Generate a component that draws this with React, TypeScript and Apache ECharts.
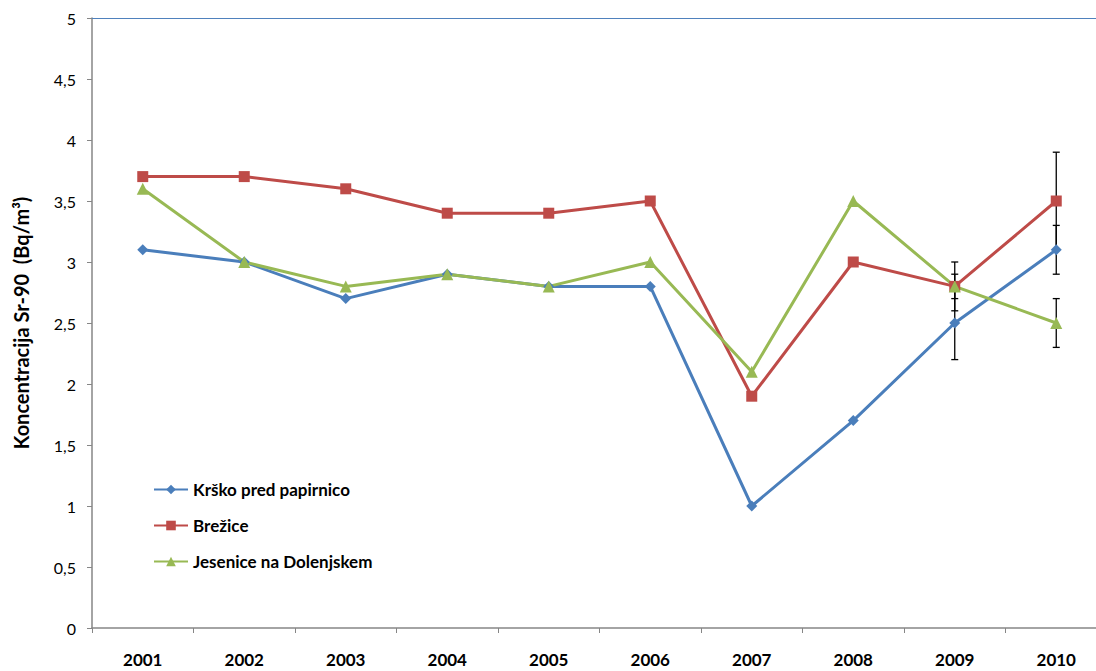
import React, { useEffect, useRef } from "react";
import * as echarts from "echarts";

const years = ["2001", "2002", "2003", "2004", "2005", "2006", "2007", "2008", "2009", "2010"];
const krsko = [3.1, 3.0, 2.7, 2.9, 2.8, 2.8, 1.0, 1.7, 2.5, 3.1];
const brezice = [3.7, 3.7, 3.6, 3.4, 3.4, 3.5, 1.9, 3.0, 2.8, 3.5];
const jesenice = [3.6, 3.0, 2.8, 2.9, 2.8, 3.0, 2.1, 3.5, 2.8, 2.5];
// error (± value) per year, null = none
const krskoErr = [null, null, null, null, null, null, null, null, 0.3, 0.2];
const breziceErr = [null, null, null, null, null, null, null, null, 0.2, 0.4];
const jeseniceErr = [null, null, null, null, null, null, null, null, 0.1, 0.2];
const yTicks = ["0", "0,5", "1", "1,5", "2", "2,5", "3", "3,5", "4", "4,5", "5"];

const FONT = "Lato, 'Liberation Sans', sans-serif";

function errData(values: number[], errs: (number | null)[]) {
  const out: number[][] = [];
  values.forEach((v, i) => {
    const e = errs[i];
    if (e != null) out.push([i, +(v - e).toFixed(2), +(v + e).toFixed(2)]);
  });
  return out;
}

function errSeries(values: number[], errs: (number | null)[]) {
  return {
    type: "custom",
    silent: true,
    z: 1,
    data: errData(values, errs),
    encode: { x: 0, y: [1, 2] },
    renderItem: (params: any, api: any) => {
      const x = api.value(0);
      const lo = api.coord([x, api.value(1)]);
      const hi = api.coord([x, api.value(2)]);
      const cap = 3.5;
      const style = { stroke: "#000", lineWidth: 1.3 };
      return {
        type: "group",
        children: [
          { type: "line", shape: { x1: lo[0], y1: lo[1], x2: hi[0], y2: hi[1] }, style },
          { type: "line", shape: { x1: lo[0] - cap, y1: lo[1], x2: lo[0] + cap, y2: lo[1] }, style },
          { type: "line", shape: { x1: hi[0] - cap, y1: hi[1], x2: hi[0] + cap, y2: hi[1] }, style },
        ],
      };
    },
  };
}

export default function App() {
  const ref = useRef<HTMLDivElement>(null);
  useEffect(() => {
    document.body.style.margin = "0";
    const chart = echarts.init(ref.current!, undefined, { renderer: "svg" });
    const lineSeries = (name: string, data: number[], color: string, symbol: string, size: number) => ({
      name,
      type: "line",
      data,
      z: 3,
      symbol,
      symbolSize: size,
      lineStyle: { color, width: 3 },
      itemStyle: { color },
    });
    chart.setOption({
      animation: false,
      backgroundColor: "#fff",
      grid: { left: 92, right: -11, top: 18, bottom: 43, outerBoundsMode: "none", containLabel: false },
      legend: {
        orient: "vertical",
        left: 148,
        top: 476,
        itemWidth: 34,
        itemHeight: 12,
        itemGap: 19,
        textStyle: { fontFamily: FONT, fontWeight: "bold", fontSize: 17, color: "#000" },
        data: ["Krško pred papirnico", "Brežice", "Jesenice na Dolenjskem"],
      },
      xAxis: [
        {
          type: "category",
          data: years,
          boundaryGap: true,
          axisLine: { lineStyle: { color: "#868686", width: 1.5 } },
          axisTick: { show: true, length: 5, lineStyle: { color: "#868686" } },
          axisLabel: { fontFamily: FONT, fontWeight: "bold", fontSize: 17, color: "#000", margin: 23 },
        },
        {
          type: "category",
          data: years,
          position: "top",
          axisLine: { lineStyle: { color: "#4F81BD", width: 1 } },
          axisTick: { show: false },
          axisLabel: { show: false },
        },
      ],
      yAxis: {
        type: "value",
        min: 0,
        max: 5,
        interval: 0.5,
        name: "Koncentracija Sr-90  (Bq/m³)",
        nameLocation: "middle",
        nameGap: 61,
        nameTextStyle: { fontFamily: FONT, fontWeight: "bold", fontSize: 20, color: "#000" },
        axisLine: { show: true, lineStyle: { color: "#868686", width: 1.5 } },
        axisTick: { show: true, length: 5, lineStyle: { color: "#868686" } },
        splitLine: { show: false },
        axisLabel: {
          fontFamily: FONT,
          fontSize: 16,
          color: "#000",
          margin: 16,
          formatter: (v: number) => yTicks[Math.round(v * 2)] ?? String(v),
        },
      },
      series: [
        errSeries(krsko, krskoErr),
        errSeries(brezice, breziceErr),
        errSeries(jesenice, jeseniceErr),
        lineSeries("Krško pred papirnico", krsko, "#4A7EBB", "diamond", 11),
        lineSeries("Brežice", brezice, "#BE4B48", "rect", 11),
        lineSeries("Jesenice na Dolenjskem", jesenice, "#98B954", "triangle", 12),
      ],
    });
    return () => chart.dispose();
  }, []);
  return <div ref={ref} style={{ width: 1096, height: 671 }} />;
}
